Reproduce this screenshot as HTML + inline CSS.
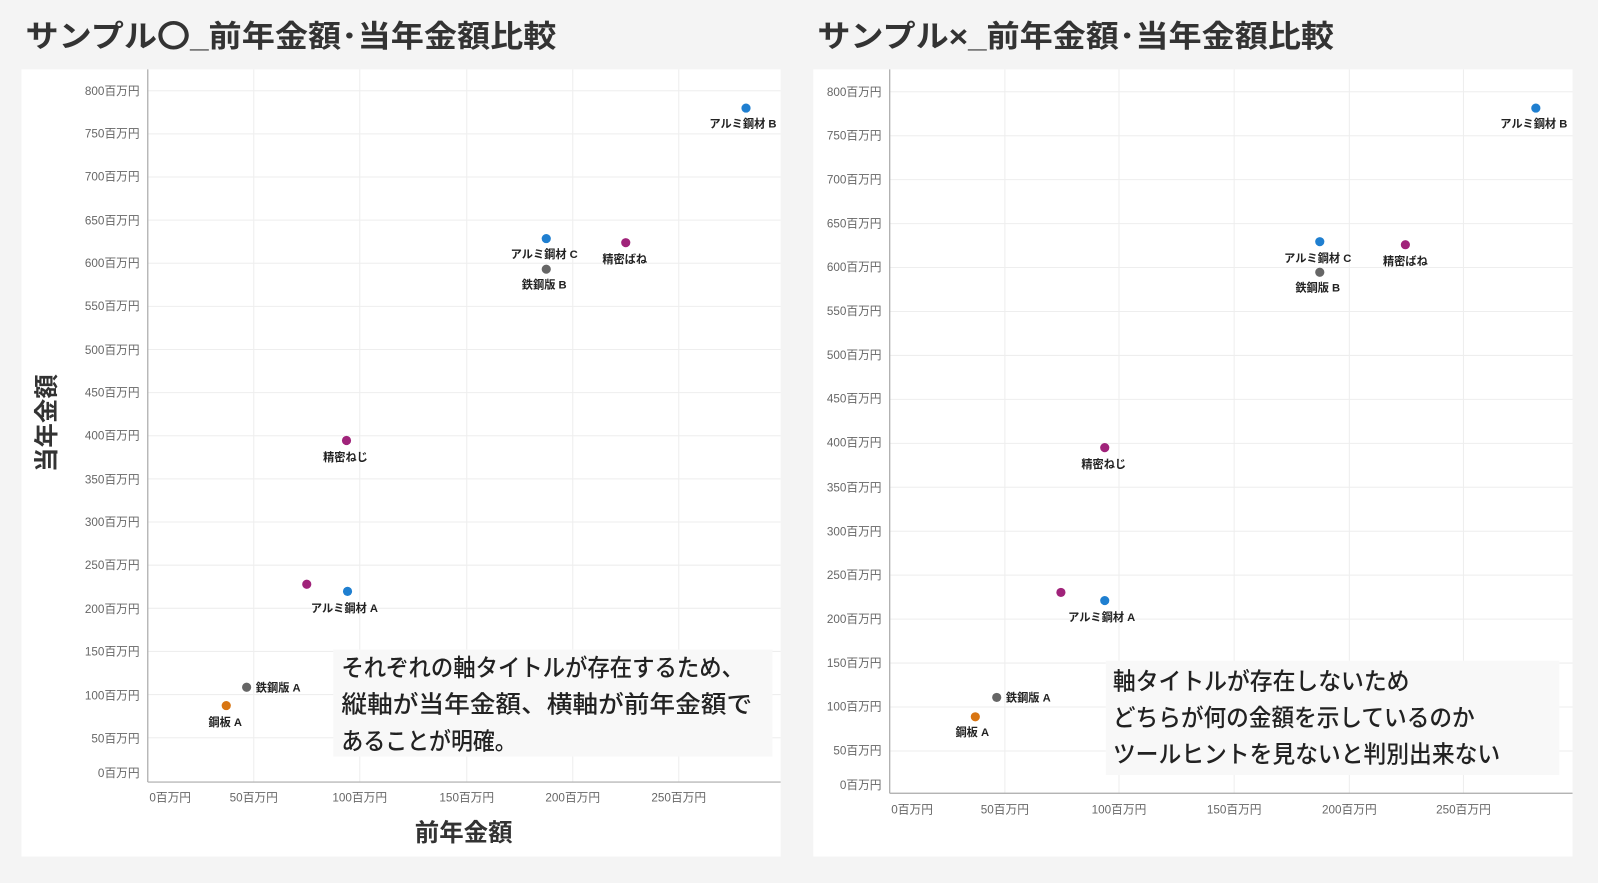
<!DOCTYPE html>
<html><head><meta charset="utf-8"><style>
html,body{margin:0;padding:0;background:#f4f4f4;overflow:hidden}
svg{display:block;font-family:"Liberation Sans","Noto Sans CJK JP",sans-serif}
.t{font-size:11.5px;fill:#666}
.d{font-size:11px;fill:#222;font-weight:bold}
.ttl{font-size:30px;fill:#333;font-weight:bold}
.an{font-size:23.5px;fill:#222;font-weight:500}
</style></head><body>
<svg width="1598" height="883" viewBox="0 0 1568 866" preserveAspectRatio="none">
<rect width="1568" height="866" fill="#f4f4f4"/>
<text class="ttl" x="25" y="46" textLength="521" lengthAdjust="spacingAndGlyphs">サンプル〇_前年金額･当年金額比較</text>
<text class="ttl" x="802" y="46" textLength="507" lengthAdjust="spacingAndGlyphs">サンプル×_前年金額･当年金額比較</text>
<rect x="21" y="68" width="745" height="772" fill="#fff"/>
<rect x="798" y="68" width="745" height="772" fill="#fff"/>
<g stroke="#eee" stroke-width="1">
<line x1="145" x2="766" y1="89" y2="89"/><line x1="145" x2="766" y1="131.3" y2="131.3"/><line x1="145" x2="766" y1="173.6" y2="173.6"/><line x1="145" x2="766" y1="215.9" y2="215.9"/><line x1="145" x2="766" y1="258.2" y2="258.2"/><line x1="145" x2="766" y1="300.5" y2="300.5"/><line x1="145" x2="766" y1="342.8" y2="342.8"/><line x1="145" x2="766" y1="385.1" y2="385.1"/><line x1="145" x2="766" y1="427.4" y2="427.4"/><line x1="145" x2="766" y1="469.7" y2="469.7"/><line x1="145" x2="766" y1="512" y2="512"/><line x1="145" x2="766" y1="554.3" y2="554.3"/><line x1="145" x2="766" y1="596.6" y2="596.6"/><line x1="145" x2="766" y1="638.9" y2="638.9"/><line x1="145" x2="766" y1="681.2" y2="681.2"/><line x1="145" x2="766" y1="723.5" y2="723.5"/>
<line x1="249" x2="249" y1="68" y2="767"/><line x1="353" x2="353" y1="68" y2="767"/><line x1="458" x2="458" y1="68" y2="767"/><line x1="562" x2="562" y1="68" y2="767"/><line x1="666" x2="666" y1="68" y2="767"/>
<line x1="873" x2="1543" y1="90" y2="90"/><line x1="873" x2="1543" y1="133.1" y2="133.1"/><line x1="873" x2="1543" y1="176.2" y2="176.2"/><line x1="873" x2="1543" y1="219.3" y2="219.3"/><line x1="873" x2="1543" y1="262.4" y2="262.4"/><line x1="873" x2="1543" y1="305.5" y2="305.5"/><line x1="873" x2="1543" y1="348.6" y2="348.6"/><line x1="873" x2="1543" y1="391.7" y2="391.7"/><line x1="873" x2="1543" y1="434.8" y2="434.8"/><line x1="873" x2="1543" y1="477.9" y2="477.9"/><line x1="873" x2="1543" y1="521" y2="521"/><line x1="873" x2="1543" y1="564.1" y2="564.1"/><line x1="873" x2="1543" y1="607.2" y2="607.2"/><line x1="873" x2="1543" y1="650.3" y2="650.3"/><line x1="873" x2="1543" y1="693.4" y2="693.4"/><line x1="873" x2="1543" y1="736.5" y2="736.5"/>
<line x1="986" x2="986" y1="68" y2="778"/><line x1="1098" x2="1098" y1="68" y2="778"/><line x1="1211" x2="1211" y1="68" y2="778"/><line x1="1324" x2="1324" y1="68" y2="778"/><line x1="1436" x2="1436" y1="68" y2="778"/>
</g>
<g stroke="#aaa" stroke-width="1.2">
<line x1="145" x2="145" y1="68" y2="767"/><line x1="145" x2="766" y1="767" y2="767"/>
<line x1="873" x2="873" y1="68" y2="778"/><line x1="873" x2="1543" y1="778" y2="778"/>
</g>
<g class="t" text-anchor="end">
<text x="137" y="93">800百万円</text><text x="137" y="135">750百万円</text><text x="137" y="177">700百万円</text><text x="137" y="220">650百万円</text><text x="137" y="262">600百万円</text><text x="137" y="304">550百万円</text><text x="137" y="347">500百万円</text><text x="137" y="389">450百万円</text><text x="137" y="431">400百万円</text><text x="137" y="474">350百万円</text><text x="137" y="516">300百万円</text><text x="137" y="558">250百万円</text><text x="137" y="601">200百万円</text><text x="137" y="643">150百万円</text><text x="137" y="686">100百万円</text><text x="137" y="728">50百万円</text><text x="137" y="762">0百万円</text>
<text x="865" y="94">800百万円</text><text x="865" y="137">750百万円</text><text x="865" y="180">700百万円</text><text x="865" y="223">650百万円</text><text x="865" y="266">600百万円</text><text x="865" y="309">550百万円</text><text x="865" y="352">500百万円</text><text x="865" y="395">450百万円</text><text x="865" y="438">400百万円</text><text x="865" y="482">350百万円</text><text x="865" y="525">300百万円</text><text x="865" y="568">250百万円</text><text x="865" y="611">200百万円</text><text x="865" y="654">150百万円</text><text x="865" y="697">100百万円</text><text x="865" y="740">50百万円</text><text x="865" y="774">0百万円</text>
</g>
<g class="t" text-anchor="middle">
<text x="167" y="786">0百万円</text><text x="249" y="786">50百万円</text><text x="353" y="786">100百万円</text><text x="458" y="786">150百万円</text><text x="562" y="786">200百万円</text><text x="666" y="786">250百万円</text>
<text x="895" y="798">0百万円</text><text x="986" y="798">50百万円</text><text x="1098" y="798">100百万円</text><text x="1211" y="798">150百万円</text><text x="1324" y="798">200百万円</text><text x="1436" y="798">250百万円</text>
</g>
<text x="455" y="825" text-anchor="middle" style="font-size:24px;fill:#333;font-weight:bold">前年金額</text>
<text transform="translate(54,415) rotate(-90)" text-anchor="middle" style="font-size:24px;fill:#333;font-weight:bold">当年金額</text>
<g>
<circle cx="732" cy="106" r="4.5" fill="#1f7fd0"/><circle cx="536" cy="234" r="4.5" fill="#1f7fd0"/><circle cx="341" cy="580" r="4.5" fill="#1f7fd0"/>
<circle cx="536" cy="264" r="4.5" fill="#666"/><circle cx="242" cy="674" r="4.5" fill="#666"/>
<circle cx="614" cy="238" r="4.5" fill="#a0237a"/><circle cx="340" cy="432" r="4.5" fill="#a0237a"/><circle cx="301" cy="573" r="4.5" fill="#a0237a"/>
<circle cx="222" cy="692" r="4.5" fill="#d87512"/>
<circle cx="1507" cy="106" r="4.5" fill="#1f7fd0"/><circle cx="1295" cy="237" r="4.5" fill="#1f7fd0"/><circle cx="1084" cy="589" r="4.5" fill="#1f7fd0"/>
<circle cx="1295" cy="267" r="4.5" fill="#666"/><circle cx="978" cy="684" r="4.5" fill="#666"/>
<circle cx="1379" cy="240" r="4.5" fill="#a0237a"/><circle cx="1084" cy="439" r="4.5" fill="#a0237a"/><circle cx="1041" cy="581" r="4.5" fill="#a0237a"/>
<circle cx="957" cy="703" r="4.5" fill="#d87512"/>
</g>
<g class="d" text-anchor="middle">
<text x="729" y="125">アルミ鋼材 B</text><text x="534" y="253">アルミ鋼材 C</text><text x="534" y="283">鉄鋼版 B</text><text x="613" y="258">精密ばね</text><text x="339" y="452">精密ねじ</text><text x="338" y="600">アルミ鋼材 A</text><text x="221" y="712">鋼板 A</text>
<text x="1505" y="125">アルミ鋼材 B</text><text x="1293" y="257">アルミ鋼材 C</text><text x="1293" y="286">鉄鋼版 B</text><text x="1379" y="260">精密ばね</text><text x="1083" y="459">精密ねじ</text><text x="1081" y="609">アルミ鋼材 A</text><text x="954" y="722">鋼板 A</text>
</g>
<g class="d"><text x="251" y="678">鉄鋼版 A</text><text x="987" y="688">鉄鋼版 A</text></g>
<rect x="327" y="637" width="431" height="105" fill="#f8f8f8"/>
<rect x="1085" y="648" width="445" height="112" fill="#f8f8f8"/>
<g class="an" lengthAdjust="spacingAndGlyphs">
<text x="335" y="663" textLength="395" lengthAdjust="spacingAndGlyphs">それぞれの軸タイトルが存在するため、</text>
<text x="335" y="699" textLength="403" lengthAdjust="spacingAndGlyphs">縦軸が当年金額、横軸が前年金額で</text>
<text x="335" y="735" textLength="172" lengthAdjust="spacingAndGlyphs">あることが明確。</text>
<text x="1092" y="676" textLength="291" lengthAdjust="spacingAndGlyphs">軸タイトルが存在しないため</text>
<text x="1092" y="712" textLength="355" lengthAdjust="spacingAndGlyphs">どちらが何の金額を示しているのか</text>
<text x="1092" y="748" textLength="380" lengthAdjust="spacingAndGlyphs">ツールヒントを見ないと判別出来ない</text>
</g>
</svg>
</body></html>
